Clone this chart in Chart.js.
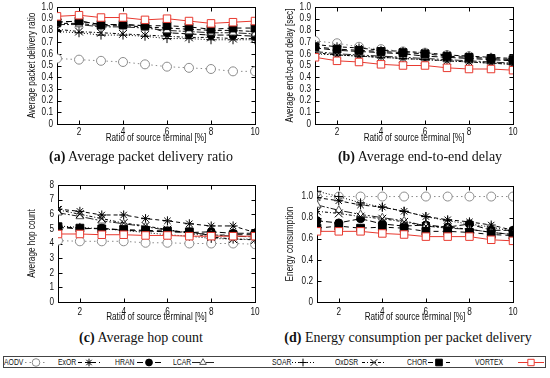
<!DOCTYPE html>
<html><head><meta charset="utf-8">
<script src="https://cdn.jsdelivr.net/npm/chart.js@4.4.1/dist/chart.umd.min.js"></script>
<style>
html,body{margin:0;padding:0;background:#fff;}
body{width:550px;height:378px;position:relative;overflow:hidden;font-family:'Liberation Sans',Arial,sans-serif;}
canvas.cv{position:absolute;}
.cap{position:absolute;font-family:'Liberation Serif','DejaVu Serif',serif;font-size:14px;color:#111;white-space:nowrap;transform:translateX(-50%);z-index:2;line-height:16px;}
#legbox{position:absolute;left:3px;top:356px;width:541px;height:10px;border:1px solid #444;}
.lt{position:absolute;top:356px;height:12px;line-height:12px;font-size:9.5px;color:#111;white-space:nowrap;transform:scaleX(0.72);transform-origin:0 50%;}
canvas.ls{position:absolute;top:356px;}
</style>
</head><body>
<canvas id="chA" class="cv" width="275" height="145" style="left:0;top:0"></canvas>
<canvas id="chB" class="cv" width="275" height="145" style="left:275px;top:0"></canvas>
<canvas id="chC" class="cv" width="275" height="170" style="left:0;top:160px"></canvas>
<canvas id="chD" class="cv" width="275" height="170" style="left:275px;top:160px"></canvas>
<div class="cap" style="left:141px;top:149px"><b>(a)</b> Average packet delivery ratio</div>
<div class="cap" style="left:420px;top:149px"><b>(b)</b> Average end-to-end delay</div>
<div class="cap" style="left:141px;top:330px"><b>(c)</b> Average hop count</div>
<div class="cap" style="left:408px;top:330px"><b>(d)</b> Energy consumption per packet delivery</div>
<div id="legbox"></div>
<div id="legend"></div>
<script>
// ---------------- data ----------------
const xValues = [1, 2, 3, 4, 5, 6, 7, 8, 9, 10];
const protocols = ['AODV', 'ExOR', 'HRAN', 'LCAR', 'SOAR', 'OxDSR', 'CHOR', 'VORTEX'];
const xTickLabels = ['2', '4', '6', '8', '10'];
const xTitle = 'Ratio of source terminal [%]';

// (a) Average packet delivery ratio
const aodvPdr   = [0.56, 0.55, 0.54, 0.53, 0.51, 0.49, 0.48, 0.47, 0.45, 0.45];
const exorPdr   = [0.86, 0.86, 0.84, 0.84, 0.83, 0.82, 0.81, 0.80, 0.80, 0.79];
const hranPdr   = [0.87, 0.88, 0.85, 0.85, 0.84, 0.78, 0.77, 0.76, 0.76, 0.75];
const lcarPdr   = [0.85, 0.85, 0.83, 0.83, 0.82, 0.80, 0.79, 0.78, 0.78, 0.77];
const soarPdr   = [0.79, 0.78, 0.76, 0.76, 0.75, 0.73, 0.73, 0.72, 0.72, 0.72];
const oxdsrPdr  = [0.81, 0.79, 0.78, 0.77, 0.76, 0.75, 0.74, 0.74, 0.73, 0.73];
const chorPdr   = [0.87, 0.88, 0.85, 0.85, 0.84, 0.84, 0.83, 0.81, 0.82, 0.82];
const vortexPdr = [0.92, 0.93, 0.91, 0.91, 0.89, 0.90, 0.88, 0.86, 0.87, 0.88];
const pdrTickLabels = ['0', '0.1', '0.2', '0.3', '0.4', '0.5', '0.6', '0.7', '0.8', '0.9', '1.0'];

// (b) Average end-to-end delay [sec]
const aodvDelay   = [0.71, 0.69, 0.66, 0.64, 0.62, 0.61, 0.59, 0.58, 0.56, 0.55];
const exorDelay   = [0.68, 0.66, 0.65, 0.63, 0.62, 0.61, 0.59, 0.58, 0.57, 0.56];
const hranDelay   = [0.65, 0.63, 0.62, 0.61, 0.60, 0.58, 0.57, 0.56, 0.55, 0.54];
const lcarDelay   = [0.62, 0.60, 0.59, 0.58, 0.57, 0.56, 0.55, 0.54, 0.53, 0.52];
const soarDelay   = [0.60, 0.59, 0.58, 0.57, 0.56, 0.55, 0.54, 0.53, 0.52, 0.51];
const oxdsrDelay  = [0.61, 0.59, 0.58, 0.57, 0.56, 0.55, 0.54, 0.53, 0.52, 0.51];
const chorDelay   = [0.66, 0.64, 0.63, 0.62, 0.61, 0.60, 0.58, 0.57, 0.56, 0.55];
const vortexDelay = [0.57, 0.54, 0.53, 0.51, 0.50, 0.50, 0.48, 0.47, 0.47, 0.46];
const delayTickLabels = ['0', '0.1', '0.2', '0.3', '0.4', '0.5', '0.6', '0.7', '0.8', '0.9', '1.0'];

// (c) Average hop count
const aodvHop   = [4.20, 4.15, 4.15, 4.15, 4.05, 4.05, 4.00, 4.00, 4.00, 3.95];
const exorHop   = [6.35, 6.20, 5.95, 5.95, 5.70, 5.55, 5.35, 5.20, 5.20, 4.75];
const hranHop   = [5.10, 5.00, 5.05, 4.90, 4.85, 4.80, 4.75, 4.80, 4.70, 4.70];
const lcarHop   = [6.10, 5.85, 5.55, 5.35, 5.15, 4.90, 4.75, 4.60, 4.50, 4.45];
const soarHop   = [5.20, 5.10, 5.00, 4.90, 4.75, 4.60, 4.50, 4.35, 4.30, 4.30];
const oxdsrHop  = [6.30, 6.00, 5.70, 5.40, 5.20, 4.95, 4.70, 4.45, 4.30, 4.25];
const chorHop   = [5.15, 5.05, 5.00, 4.95, 4.90, 4.85, 4.80, 4.55, 4.60, 4.60];
const vortexHop = [4.65, 4.65, 4.60, 4.60, 4.55, 4.55, 4.50, 4.50, 4.50, 4.50];
const hopTickLabels = ['0', '1', '2', '3', '4', '5', '6', '7', '8'];

// (d) Energy consumption per packet delivery
const aodvEnergy   = [1.00, 1.00, 1.00, 1.00, 1.00, 1.00, 1.00, 1.00, 1.00, 1.00];
const exorEnergy   = [0.99, 0.96, 0.92, 0.90, 0.86, 0.81, 0.78, 0.76, 0.73, 0.68];
const hranEnergy   = [0.77, 0.75, 0.79, 0.74, 0.72, 0.73, 0.71, 0.74, 0.68, 0.68];
const lcarEnergy   = [0.92, 0.87, 0.83, 0.80, 0.77, 0.72, 0.70, 0.69, 0.66, 0.64];
const soarEnergy   = [1.05, 1.00, 0.94, 0.90, 0.86, 0.81, 0.77, 0.74, 0.71, 0.67];
const oxdsrEnergy  = [0.86, 0.84, 0.81, 0.79, 0.76, 0.72, 0.71, 0.69, 0.66, 0.64];
const chorEnergy   = [0.70, 0.72, 0.70, 0.71, 0.70, 0.67, 0.67, 0.66, 0.64, 0.63];
const vortexEnergy = [0.67, 0.67, 0.67, 0.65, 0.64, 0.62, 0.62, 0.62, 0.59, 0.58];
const energyTickLabels = ['0', '0.2', '0.4', '0.6', '0.8', '1.0'];

// ---------------- styles ----------------
const FONT_FAMILY = "'Liberation Sans',Arial,sans-serif";
const TXT = '#111';
const TEXT_CONDENSE = 0.82;   // the original figure uses a narrow sans face
const seriesStyles = [
  {borderColor:'#8c8c8c', borderDash:[1.5,3], pointStyle:'circle',   pointRadius:4.5, pointBackgroundColor:'#fff', pointBorderColor:'#8c8c8c'},
  {borderColor:'#000',    borderDash:[4,3],   pointStyle:'star',     pointRadius:4.5, pointBackgroundColor:'#000', pointBorderColor:'#000'},
  {borderColor:'#000',    borderDash:[6,3],   pointStyle:'circle',   pointRadius:4,   pointBackgroundColor:'#000', pointBorderColor:'#000'},
  {borderColor:'#222',    borderDash:[8,2,2,2], pointStyle:'triangle', pointRadius:4.5, pointBackgroundColor:'#fff', pointBorderColor:'#555'},
  {borderColor:'#000',    borderDash:[1,2],   pointStyle:'cross',    pointRadius:4.5, pointBackgroundColor:'#000', pointBorderColor:'#000'},
  {borderColor:'#000',    borderDash:[3,2,1,2], pointStyle:'crossRot', pointRadius:5.5, pointBackgroundColor:'#000', pointBorderColor:'#000'},
  {borderColor:'#000',    borderDash:[5,4],   pointStyle:'rect',     pointRadius:5.5, pointBackgroundColor:'#000', pointBorderColor:'#000'},
  {borderColor:'#e8392f', borderDash:[],      pointStyle:'rect',     pointRadius:5.3, pointBackgroundColor:'#fff', pointBorderColor:'#e8392f'}
];

// draw canvas text horizontally condensed (emulates a narrow font face)
(function () {
  const P = CanvasRenderingContext2D.prototype;
  const orig = P.fillText;
  P.fillText = function (text, x, y, maxWidth) {
    this.save();
    this.translate(x, y);
    this.scale(TEXT_CONDENSE, 1);
    if (maxWidth !== undefined) orig.call(this, text, 0, 0, maxWidth / TEXT_CONDENSE);
    else orig.call(this, text, 0, 0);
    this.restore();
  };
})();

// frame + inward tick marks (gnuplot style)
const framePlugin = {
  id: 'frame',
  beforeDatasetsDraw(chart) {
    const {ctx, chartArea: a, scales: {x, y}} = chart;
    const L = Math.round(a.left) + 0.5, R = Math.round(a.right) + 0.5;
    const T = Math.round(a.top) + 0.5, B = Math.round(a.bottom) + 0.5;
    ctx.save();
    ctx.strokeStyle = '#000';
    ctx.lineWidth = 1;
    ctx.setLineDash([]);
    ctx.strokeRect(L, T, R - L, B - T);
    ctx.beginPath();
    y.ticks.forEach(t => {
      const p = Math.round(y.getPixelForValue(t.value)) + 0.5;
      ctx.moveTo(L, p); ctx.lineTo(L + 4, p);
      ctx.moveTo(R, p); ctx.lineTo(R - 4, p);
    });
    x.ticks.forEach(t => {
      const p = Math.round(x.getPixelForValue(t.value)) + 0.5;
      ctx.moveTo(p, B); ctx.lineTo(p, B - 4);
      ctx.moveTo(p, T); ctx.lineTo(p, T + 4);
    });
    ctx.stroke();
    ctx.restore();
  }
};

function makeChart(id, series, yTickLabels, yMax, yTitle, g) {
  const yTickValues = yTickLabels.map(parseFloat);
  const xTickValues = xTickLabels.map(parseFloat);
  const font = {family: FONT_FAMILY, size: 10};
  return new Chart(document.getElementById(id), {
    type: 'line',
    data: {
      datasets: series.map((vals, i) => Object.assign({
        label: protocols[i],
        data: xValues.map((xv, j) => ({x: xv, y: vals[j]})),
        borderWidth: 1,
        pointBorderWidth: 1,
        fill: false,
        tension: 0,
        order: series.length - 1 - i
      }, seriesStyles[i]))
    },
    options: {
      responsive: false,
      animation: false,
      devicePixelRatio: 1,
      layout: {padding: {left: 0, right: g.pr, top: g.pt, bottom: g.pb}},
      plugins: {legend: {display: false}, tooltip: {enabled: false}},
      scales: {
        x: {
          type: 'linear', min: 1, max: 10,
          grid: {display: false, drawTicks: false},
          border: {display: false},
          ticks: {padding: g.xtp, font, color: TXT, autoSkip: false, maxRotation: 0,
                  callback: (v, i) => xTickLabels[i]},
          afterBuildTicks: s => { s.ticks = xTickValues.map(v => ({value: v})); },
          afterFit: s => { s.height = g.xh; s.paddingLeft = 0; s.paddingRight = 0; },
          title: {display: true, text: xTitle, font, color: TXT, padding: {top: 0, bottom: 0}}
        },
        y: {
          type: 'linear', min: 0, max: yMax,
          grid: {display: false, drawTicks: false},
          border: {display: false},
          ticks: {padding: 4, font, color: TXT, autoSkip: false,
                  callback: (v, i) => yTickLabels[i]},
          afterBuildTicks: s => { s.ticks = yTickValues.map(v => ({value: v})); },
          afterFit: s => { s.width = g.yw; s.paddingTop = 0; s.paddingBottom = 0; },
          title: {display: true, text: yTitle, font, color: TXT, padding: {top: g.ytp, bottom: 0}}
        }
      }
    },
    plugins: [framePlugin]
  });
}

makeChart('chA', [aodvPdr, exorPdr, hranPdr, lcarPdr, soarPdr, oxdsrPdr, chorPdr, vortexPdr],
  pdrTickLabels, 1.0, 'Average packet delivery ratio', {pr: 20, pt: 7, pb: 1, yw: 57, xh: 20, xtp: 2, ytp: 26});
makeChart('chB', [aodvDelay, exorDelay, hranDelay, lcarDelay, soarDelay, oxdsrDelay, chorDelay, vortexDelay],
  delayTickLabels, 1.0, 'Average end-to-end delay [sec]', {pr: 37, pt: 7, pb: 1, yw: 40, xh: 20, xtp: 2, ytp: 9});
makeChart('chC', [aodvHop, exorHop, hranHop, lcarHop, soarHop, oxdsrHop, chorHop, vortexHop],
  hopTickLabels, 8, 'Average hop count', {pr: 20, pt: 25, pb: 7, yw: 58, xh: 21, xtp: 4, ytp: 26});
makeChart('chD', [aodvEnergy, exorEnergy, hranEnergy, lcarEnergy, soarEnergy, oxdsrEnergy, chorEnergy, vortexEnergy],
  energyTickLabels, 1.1, 'Energy consumption', {pr: 37, pt: 26, pb: 7, yw: 42, xh: 21, xtp: 4, ytp: 9});

// ---------------- legend ----------------
const legendTextX   = [4, 58, 115, 173, 272, 335, 407, 475];
const legendSampleX = [25, 78, 137, 192, 292, 362, 428, 518];
const legendSampleW = [22, 22, 24, 22, 22, 24, 22, 26];
const legendEl = document.getElementById('legend');
protocols.forEach((name, i) => {
  const t = document.createElement('div');
  t.className = 'lt';
  t.style.left = legendTextX[i] + 'px';
  t.textContent = name;
  legendEl.appendChild(t);
  const c = document.createElement('canvas');
  c.className = 'ls';
  c.width = legendSampleW[i]; c.height = 12;
  c.style.left = legendSampleX[i] + 'px';
  legendEl.appendChild(c);
  const st = seriesStyles[i];
  const ctx = c.getContext('2d');
  const cy = 6.5;
  ctx.strokeStyle = st.borderColor; ctx.lineWidth = 1;
  ctx.setLineDash(st.borderDash);
  ctx.beginPath(); ctx.moveTo(0, cy); ctx.lineTo(c.width, cy); ctx.stroke();
  ctx.setLineDash([]);
  ctx.fillStyle = st.pointBackgroundColor; ctx.strokeStyle = st.pointBorderColor;
  Chart.helpers.drawPoint(ctx, {pointStyle: st.pointStyle, radius: st.pointRadius * 0.85, borderWidth: 1, rotation: 0}, c.width / 2, cy);
});
</script>
</body></html>
